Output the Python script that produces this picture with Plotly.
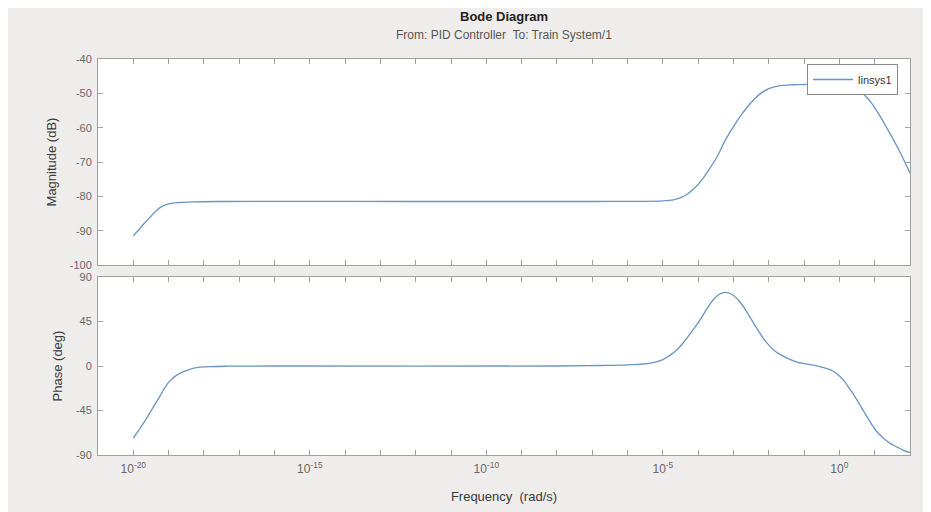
import plotly.graph_objects as go
from plotly.subplots import make_subplots

# ---- data ----
# frequencies given as log10(rad/s)
log10_freq_mag = [-20, -19.85, -19.7, -19.5, -19.35, -19.2, -19.0, -18.7, -18.3, -17.5,
                  -12, -7, -5.0, -4.7, -4.5, -4.3, -4.1, -3.9, -3.7, -3.46, -3.25, -3.0,
                  -2.8, -2.6, -2.4, -2.2, -2.0, -1.7, -1.3, -0.5, 0.0, 0.3, 0.5, 0.7,
                  0.9, 1.16, 1.35, 1.53, 1.75, 2.0]
mag_db = [-91.5, -89.8, -88.0, -85.8, -84.2, -83.0, -82.2, -81.8, -81.6, -81.5,
          -81.5, -81.5, -81.3, -81.0, -80.4, -79.3, -77.6, -75.3, -72.3, -68.4, -64.0, -59.7,
          -56.6, -53.9, -51.6, -49.8, -48.6, -47.8, -47.5, -47.4, -47.4, -47.8, -48.8, -50.4,
          -52.7, -56.8, -60.2, -63.5, -67.8, -73.2]

log10_freq_ph = [-20, -19.83, -19.66, -19.5, -19.32, -19.15, -19.0, -18.8, -18.6, -18.4,
                 -18.16, -17.8, -17.3, -16, -8, -6.8, -6.0, -5.35, -5.0, -4.79, -4.6, -4.42,
                 -4.2, -3.94, -3.75, -3.57, -3.4, -3.23, -3.05, -2.8, -2.55, -2.32, -2.1,
                 -1.87, -1.67, -1.45, -1.2, -0.95, -0.74, -0.5, -0.25, -0.05, 0.11, 0.3,
                 0.51, 0.7, 0.88, 1.05, 1.25, 1.45, 1.64, 1.8, 2.0]
phase_deg = [-73, -64, -55, -45.5, -35, -24.5, -16.5, -10, -6, -3.3,
             -1.5, -0.6, -0.2, 0, 0, 0.5, 1.2, 3, 6.5, 11, 16.5, 23.5,
             34, 47, 58, 67, 72.5, 74.5, 72.5, 64, 50.5, 37, 25.5,
             16.5, 11.5, 7.5, 4, 2.2, 0.8, -1.2, -4, -8.5, -14, -23.5,
             -35, -46.5, -57, -66, -73, -78.5, -82, -85, -87.5]

x_tickvals = [1e-21, 1e-20, 1e-19, 1e-18, 1e-17, 1e-16, 1e-15, 1e-14, 1e-13, 1e-12, 1e-11,
              1e-10, 1e-9, 1e-8, 1e-7, 1e-6, 1e-5, 1e-4, 1e-3, 1e-2, 1e-1, 1e0, 1e1, 1e2]
x_ticktext = ["", "10<sup>-20</sup>", "", "", "", "", "10<sup>-15</sup>", "", "", "", "",
              "10<sup>-10</sup>", "", "", "", "", "10<sup>-5</sup>", "", "", "", "",
              "10<sup>0</sup>", "", ""]
mag_ticks = [-100, -90, -80, -70, -60, -50, -40]
mag_ticktext = ["-100", "-90", "-80", "-70", "-60", "-50", "-40"]
ph_ticks = [-90, -45, 0, 45, 90]
ph_ticktext = ["-90", "-45", "0", "45", "90"]

series_name = "linsys1"
title_text = "Bode Diagram"
subtitle_text = "From: PID Controller  To: Train System/1"

freq_mag = [10 ** e for e in log10_freq_mag]
freq_ph = [10 ** e for e in log10_freq_ph]

# ---- styling ----
# the page body adds an 8px white margin; figure coords = screen coords - 8
W, H = 923, 504
ML, MR, MT, MB = 90, 21, 51, 57
PW, PH = W - ML - MR, H - MT - MB
LINE = "#6a94c4"
AX = "#a0a0a0"
FAM = "Liberation Sans, Arial, sans-serif"
TICKFONT = dict(family=FAM, size=11, color="#666666")
LABFONT = dict(family=FAM, size=13, color="#3a3a3a")
BG = "#efedeb"

ph_top = (H - MB - 269) / PH
mag_bot = (H - MB - 257) / PH

fig = make_subplots(rows=2, cols=1, shared_xaxes=False)

fig.add_trace(go.Scatter(x=freq_mag, y=mag_db, mode="lines", name=series_name,
                         line=dict(color=LINE, width=1.3, shape="spline", smoothing=1.05),
                         showlegend=True), row=1, col=1)
fig.add_trace(go.Scatter(x=freq_ph, y=phase_deg, mode="lines", name=series_name,
                         line=dict(color=LINE, width=1.3, shape="spline", smoothing=1.05),
                         showlegend=False), row=2, col=1)

common_x = dict(type="log", range=[-21, 2], tickvals=x_tickvals, ticks="inside",
                ticklen=5, tickcolor=AX, showline=True, linecolor=AX, linewidth=1,
                mirror="ticks", showgrid=False, zeroline=False,
                tickfont=dict(family=FAM, size=12, color="#666666"))
common_y = dict(ticks="inside", ticklen=5, tickcolor=AX, showline=True, linecolor=AX,
                mirror="ticks", showgrid=False, zeroline=False, tickfont=TICKFONT,
                ticklabelstandoff=3)

fig.update_layout(
    xaxis=dict(common_x, domain=[0, 1], ticktext=[""] * len(x_tickvals), anchor="y"),
    xaxis2=dict(common_x, domain=[0, 1], ticktext=x_ticktext, anchor="y2",
                ticklabelstandoff=3,
                title=dict(text="Frequency  (rad/s)", font=LABFONT, standoff=16)),
    yaxis=dict(common_y, domain=[mag_bot, 1], range=[-100, -40], tickvals=mag_ticks,
               ticktext=mag_ticktext, anchor="x",
               title=dict(text="Magnitude (dB)", font=LABFONT, standoff=10)),
    yaxis2=dict(common_y, domain=[0, ph_top], range=[-90, 90], tickvals=ph_ticks,
                ticktext=ph_ticktext, anchor="x2",
                title=dict(text="Phase (deg)", font=LABFONT, standoff=10)),
    width=W, height=H,
    margin=dict(l=ML, r=MR, t=MT, b=MB, autoexpand=False),
    paper_bgcolor=BG, plot_bgcolor="white",
    showlegend=True,
    legend=dict(x=(890 - ML) / PW, y=(H - MB - 56) / PH,
                xanchor="right", yanchor="top", bgcolor="white", bordercolor="#8a8a8a",
                borderwidth=1, font=dict(family=FAM, size=11, color="#333333"),
                itemwidth=40, tracegroupgap=0),
    font=dict(family=FAM),
)

fig.add_annotation(text="<b>" + title_text + "</b>", xref="paper", yref="paper",
                   x=0.5, y=1 + (MT - 8) / PH, showarrow=False,
                   font=dict(family=FAM, size=13, color="#222222"), yanchor="middle")
fig.add_annotation(text=subtitle_text, xref="paper", yref="paper",
                   x=0.5, y=1 + (MT - 27) / PH, showarrow=False,
                   font=dict(family=FAM, size=12, color="#555555"), yanchor="middle")

fig.write_html("out.html")
